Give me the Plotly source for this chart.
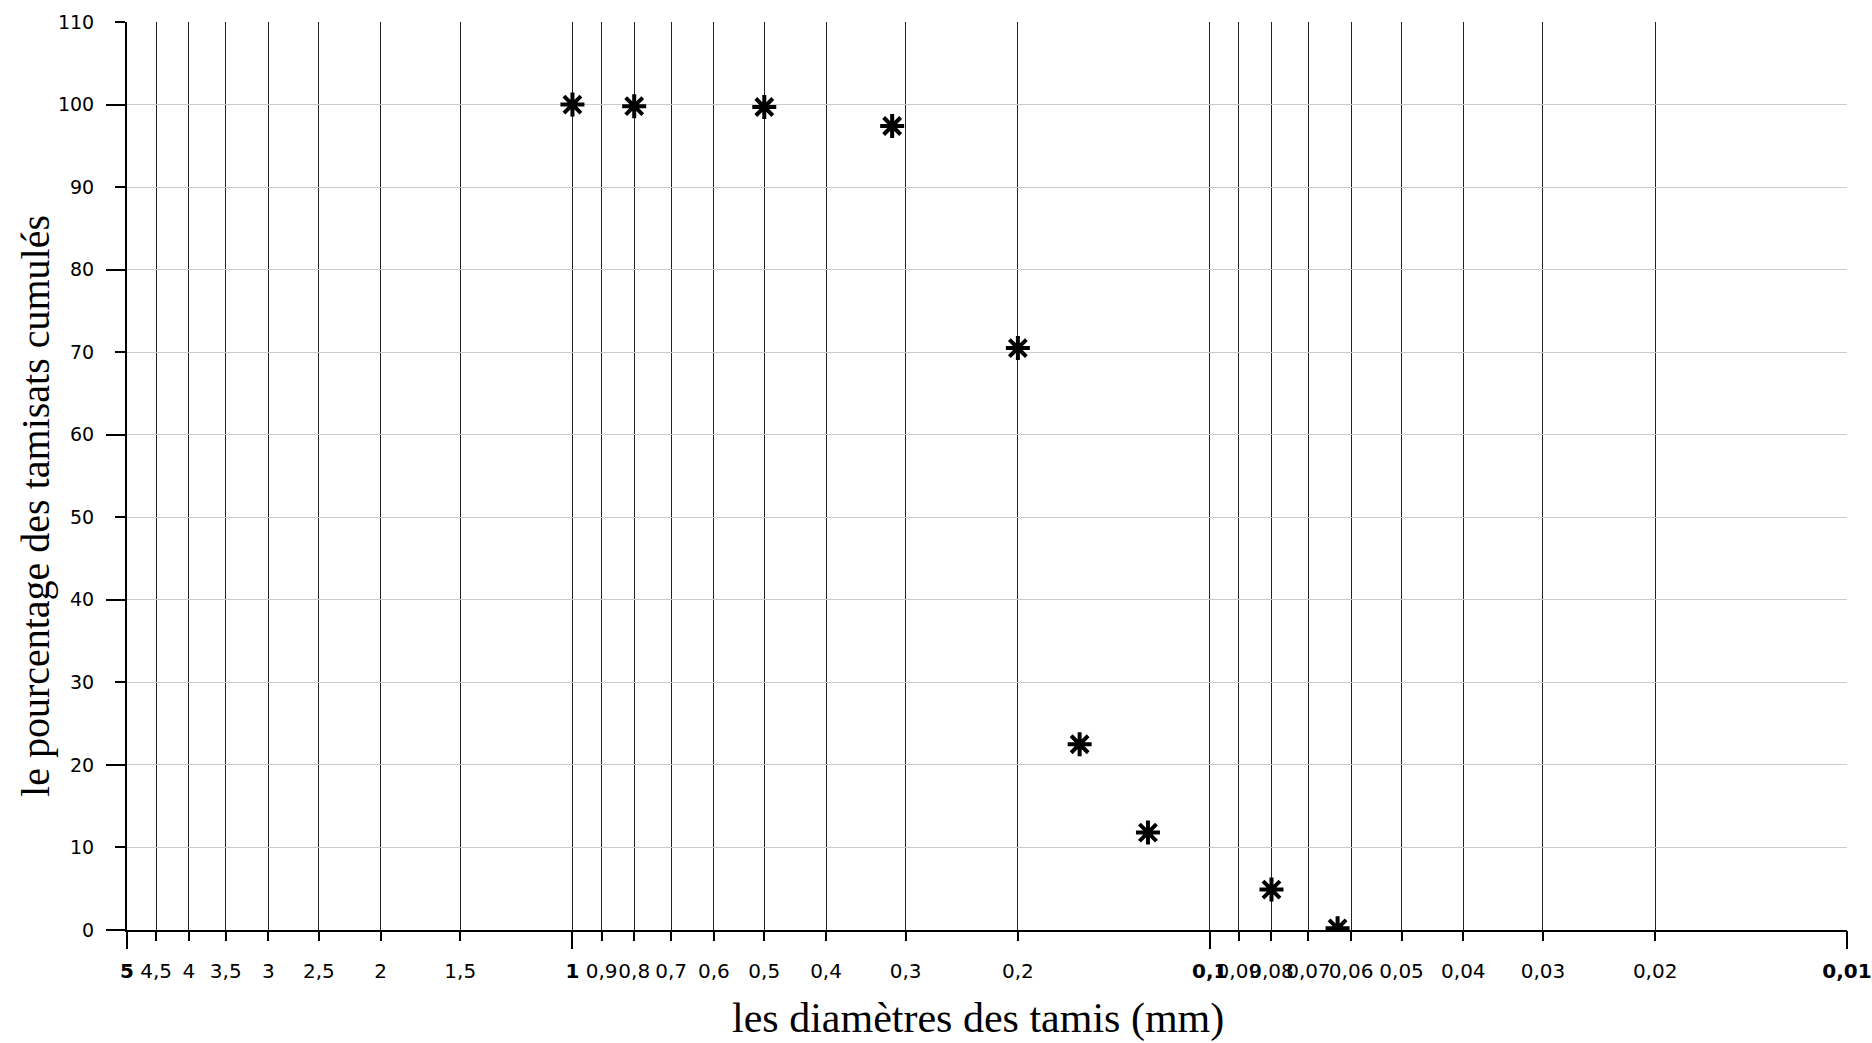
import math
import plotly.graph_objects as go

# Sieve openings (mm) and cumulative passing percentages
sieve_mm = [1, 0.8, 0.5, 0.315, 0.2, 0.16, 0.125, 0.08, 0.063]
passing_pct = [100, 99.8, 99.7, 97.4, 70.5, 22.5, 11.8, 4.9, 0.2]

# Axis ticks
x_tick_vals = [5, 4.5, 4, 3.5, 3, 2.5, 2, 1.5, 1, 0.9, 0.8, 0.7, 0.6, 0.5, 0.4,
               0.3, 0.2, 0.1, 0.09, 0.08, 0.07, 0.06, 0.05, 0.04, 0.03, 0.02, 0.01]
x_tick_text = ["<b>5</b>", "4,5", "4", "3,5", "3", "2,5", "2", "1,5", "<b>1</b>",
               "0,9", "0,8", "0,7", "0,6", "0,5", "0,4", "0,3", "0,2", "<b>0,1</b>",
               "0,09", "0,08", "0,07", "0,06", "0,05", "0,04", "0,03", "0,02", "<b>0,01</b>"]
x_major_vals = [5, 1, 0.1, 0.01]
y_tick_vals = [0, 10, 20, 30, 40, 50, 60, 70, 80, 90, 100, 110]
y_major_vals = [0, 20, 40, 60, 80, 100]

x_title = "les diamètres des tamis (mm)"
y_title = "le pourcentage des tamisats cumulés"

x_range = [math.log10(5), math.log10(0.01)]
y_range = [0, 110]

x_tick_font = dict(family="DejaVu Sans, Verdana, sans-serif", size=20, color="black")
y_tick_font = dict(family="DejaVu Sans, Verdana, sans-serif", size=19, color="black")
x_title_font = dict(family="Liberation Serif, Times New Roman, serif", size=42, color="black")
y_title_font = dict(family="Liberation Serif, Times New Roman, serif", size=40, color="black")

fig = go.Figure()

fig.add_trace(go.Scatter(
    x=sieve_mm, y=passing_pct, mode="markers",
    marker=dict(symbol="asterisk-open", size=20, color="black",
                line=dict(color="black", width=4)),
    showlegend=False, hoverinfo="x+y",
))

# helper trace so the overlay axes (longer ticks) are drawn
fig.add_trace(go.Scatter(
    x=[1], y=[0], xaxis="x2", yaxis="y2", mode="markers",
    marker=dict(opacity=0), showlegend=False, hoverinfo="skip",
))

fig.update_layout(
    width=1872, height=1043,
    margin=dict(l=127, r=25, t=22, b=113, autoexpand=False),
    paper_bgcolor="white", plot_bgcolor="white",
    xaxis=dict(
        type="log", range=x_range, tickmode="array",
        tickvals=x_tick_vals, ticktext=x_tick_text, tickangle=0,
        ticks="outside", ticklen=9, tickwidth=2, tickcolor="black",
        ticklabelstandoff=13, automargin=False,
        showgrid=True, gridcolor="#222222", gridwidth=1,
        showline=True, linecolor="black", linewidth=2,
        zeroline=False, tickfont=x_tick_font,
    ),
    yaxis=dict(
        range=y_range, tickmode="array", tickvals=y_tick_vals,
        ticks="outside", ticklen=10, tickwidth=2, tickcolor="black",
        ticklabelstandoff=17, automargin=False,
        showgrid=True, gridcolor="#cccccc", gridwidth=1,
        showline=True, linecolor="black", linewidth=2,
        zeroline=False, tickfont=y_tick_font,
    ),
    xaxis2=dict(
        type="log", range=x_range, overlaying="x", anchor="y", side="bottom",
        tickmode="array", tickvals=x_major_vals, showticklabels=False,
        ticks="outside", ticklen=18, tickwidth=2, tickcolor="black",
        showgrid=False, showline=False, zeroline=False, automargin=False,
    ),
    yaxis2=dict(
        range=y_range, overlaying="y", anchor="x", side="left",
        tickmode="array", tickvals=y_major_vals, showticklabels=False,
        ticks="outside", ticklen=20, tickwidth=2, tickcolor="black",
        showgrid=False, showline=False, zeroline=False, automargin=False,
    ),
    annotations=[
        dict(text=x_title, xref="paper", yref="paper", x=0.495, y=-0.098,
             xanchor="center", yanchor="middle", showarrow=False, font=x_title_font),
        dict(text=y_title, xref="paper", yref="paper", x=-0.0529, y=0.467,
             xanchor="center", yanchor="middle", textangle=-90,
             showarrow=False, font=y_title_font),
    ],
)

fig.write_html("out.html")
